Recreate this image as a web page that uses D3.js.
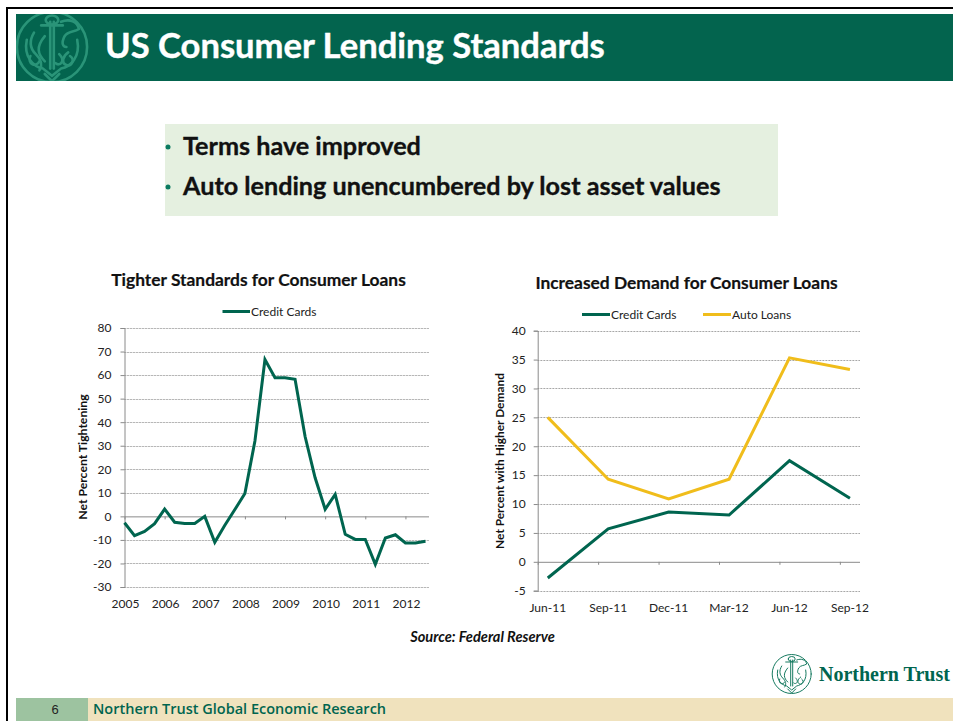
<!DOCTYPE html>
<html>
<head>
<meta charset="utf-8">
<script src="https://cdn.jsdelivr.net/npm/d3@7"></script>
<style>
html,body{margin:0;padding:0;background:#fff;overflow:hidden}
svg{display:block}
text{font-family:Lato,"Open Sans",sans-serif}
</style>
</head>
<body>
<svg id="slide" width="953" height="721"></svg>
<script>
// Lending survey figures, in net percent
const slideTitle = "US Consumer Lending Standards";
const bullets = ["Terms have improved", "Auto lending unencumbered by lost asset values"];
const sourceNote = "Source: Federal Reserve";
const footerText = "Northern Trust Global Economic Research";
const pageNumber = "6";
const brandName = "Northern Trust";

const leftTitle = "Tighter Standards for Consumer Loans";
const leftAxisTitle = "Net Percent Tightening";
const leftSeriesName = "Credit Cards";
const leftYears = ["2005","2006","2007","2008","2009","2010","2011","2012"];
const leftYTicks = [80,70,60,50,40,30,20,10,0,-10,-20,-30];
// Quarterly, 2005 Q1 through 2012 Q3
const tighteningCards = [-2.7,-8.2,-6.4,-3.1,3.1,-2.5,-3,-3,0,-11,-3.8,2.9,9.7,32,66.6,58.9,58.9,58.2,33.9,16.4,3,9.3,-7.6,-9.8,-9.8,-20.4,-9.2,-7.8,-11.3,-11.3,-10.6];

const rightTitle = "Increased Demand for Consumer Loans";
const rightAxisTitle = "Net Percent with Higher Demand";
const rightQuarters = ["Jun-11","Sep-11","Dec-11","Mar-12","Jun-12","Sep-12"];
const rightYTicks = [40,35,30,25,20,15,10,5,0,-5];
const demandCards = [-2.8,5.7,8.6,8.1,17.5,11];
const demandAuto = [25,14.3,10.9,14.3,35.3,33.3];

const GREEN = "#00654f", GOLD = "#f0bd1b", INK = "#222", AXIS = "#8a8a8a";

const svg = d3.select("#slide");

// Slide frame, header band, footer band
svg.append("rect").attr("x",7).attr("y",8).attr("width",960).attr("height",730)
  .attr("fill","none").attr("stroke","#000").attr("stroke-width",2);
svg.append("rect").attr("x",16).attr("y",14).attr("width",937).attr("height",67).attr("fill","#03644e");
svg.append("text").attr("x",105).attr("y",58).attr("fill","#fff")
  .attr("font-size",34.6).attr("font-weight",700).attr("stroke","#fff").attr("stroke-width",0.4).text(slideTitle);

svg.append("rect").attr("x",16).attr("y",698).attr("width",72).attr("height",23).attr("fill","#9dc3a0");
svg.append("rect").attr("x",88).attr("y",698).attr("width",865).attr("height",23).attr("fill","#f0e2bd");
svg.append("text").attr("x",55).attr("y",714).attr("text-anchor","middle").attr("fill","#222")
  .style("font-family","'Liberation Sans'").attr("font-size",13).text(pageNumber);
svg.append("text").attr("x",93).attr("y",714).attr("fill",GREEN)
  .style("font-family","'Open Sans'").attr("font-weight",600).attr("font-size",14.5).text(footerText);

// Anchor-and-ring emblem, reused in the header and beside the brand name
function emblem(parent, cx, cy, r, colour, sw){
  const g = parent.append("g").attr("transform",`translate(${cx},${cy}) scale(${r/20})`)
    .attr("fill","none").attr("stroke",colour).attr("stroke-width",sw*20/r).attr("stroke-linecap","round");
  g.append("circle").attr("r",19.5);
  ["M-1,-14 V12","M1,-14 V12","M-6,-12 H6",
   "M-3.5,-15 a3.5,2.5 0 1 1 7,0 a3.5,2.5 0 1 1 -7,0",
   "M-14,-4 C-16,6 -10,11 -5,12 L0,16 L5,12 C10,11 16,6 14,-4",
   "M-10,-8 C-13,-3 -12,1 -9,4 C-6,7 -5,10 -7,13",
   "M5,-14 C10,-16 14,-14 15,-10 C12,-8 9,-9 7,-6 C5,-2 6,0 8,0",
   "M9,3 C6,5 5,9 8,10 C11,11 13,7 10,5",
   "M-12,5 C-14,9 -9,12 -7,8 M-4,-6 C-9,0 -8,4 -4,8 M4,4 C8,8 4,11 2,9",
   "M-4,15 L0,19 L4,15"
  ].forEach(d => g.append("path").attr("d",d));
}
const hdrClip = svg.append("clipPath").attr("id","hdrClip");
hdrClip.append("rect").attr("x",16).attr("y",14).attr("width",80).attr("height",67);
emblem(svg.append("g").attr("clip-path","url(#hdrClip)"),52,47,36,"#2a9478",2.6);
emblem(svg,791.7,674,20,"#167a60",1);
svg.append("text").attr("x",819).attr("y",681).attr("fill",GREEN)
  .style("font-family","'Liberation Serif'").attr("font-weight",700).attr("font-size",20).text(brandName);

// Callout with the two takeaways
svg.append("rect").attr("x",165).attr("y",124).attr("width",613).attr("height",92).attr("fill","#e5f0e0");
bullets.forEach((b,i)=>{
  const y = 155 + i*40;
  svg.append("circle").attr("cx",168).attr("cy",y-8).attr("r",2.5).attr("fill","#0a7a60");
  svg.append("text").attr("x",183).attr("y",y).attr("fill","#111")
    .attr("font-size",25.2).attr("font-weight",700).attr("stroke","#111").attr("stroke-width",0.35).text(b);
});

svg.append("text").attr("x",482.5).attr("y",642).attr("text-anchor","middle").attr("fill","#111")
  .attr("font-size",14.6).attr("font-weight",700).attr("font-style","italic").text(sourceNote);

// Shared cartesian furniture for both panels
function panel(cfg){
  const {x,y,left,right,yTicks,tickSpots,tickLabels,labelSpots,labelY} = cfg;
  const g = svg.append("g");
  const snap = v => Math.round(v)+0.5;
  const grid = yTicks.filter(d=>d!==0);
  // Pale rule under a darker dotted rule
  g.append("g").selectAll("line").data(grid).join("line")
    .attr("x1",left).attr("x2",right).attr("y1",d=>snap(y(d))).attr("y2",d=>snap(y(d)))
    .attr("stroke","#e2e2e2");
  g.append("g").selectAll("line").data(grid).join("line")
    .attr("x1",left).attr("x2",right).attr("y1",d=>snap(y(d))).attr("y2",d=>snap(y(d)))
    .attr("stroke","#8c8c8c").attr("stroke-dasharray","1 2");

  const yAxis = d3.axisLeft(y).tickValues(yTicks).tickSize(4).tickPadding(cfg.pad).tickFormat(d=>d<0?"-"+Math.abs(d):d);
  const ya = g.append("g").attr("transform",`translate(${left},0)`).call(yAxis);
  ya.select(".domain").attr("stroke",AXIS);
  ya.selectAll(".tick line").attr("stroke",AXIS);
  ya.selectAll("text").attr("fill",INK).attr("font-size",12);

  // Baseline at zero, tick marks hanging below it
  const xAxis = d3.axisBottom(x).tickValues(tickSpots).tickSize(3).tickFormat("");
  const xa = g.append("g").attr("transform",`translate(0,${y(0)})`).call(xAxis);
  xa.select(".domain").attr("stroke",AXIS).attr("d",`M${left},0.5H${right}`);
  xa.selectAll(".tick line").attr("stroke",AXIS);

  g.append("g").selectAll("text").data(tickLabels).join("text")
    .attr("x",(d,i)=>x(labelSpots[i])+cfg.labelShift).attr("y",labelY)
    .attr("text-anchor","middle").attr("fill",INK).attr("font-size",12).text(d=>d);

  g.append("text").attr("transform",`translate(${cfg.axisTitleX},${cfg.axisTitleY}) rotate(-90)`)
    .attr("text-anchor","middle").attr("fill","#111").attr("font-size",cfg.axisTitleSize).attr("font-weight",700).text(cfg.axisTitle);
  g.append("text").attr("x",cfg.titleX).attr("y",cfg.titleY).attr("text-anchor","middle")
    .attr("fill","#111").attr("font-size",17.4).attr("font-weight",700).attr("stroke","#111").attr("stroke-width",0.2).text(cfg.title);
  return g;
}

function legendItem(x0, x1, y, colour, name){
  svg.append("line").attr("x1",x0).attr("x2",x1).attr("y1",y).attr("y2",y)
    .attr("stroke",colour).attr("stroke-width",3);
  svg.append("text").attr("x",x1+1).attr("y",y+4).attr("fill",INK).attr("font-size",12).text(name);
}

// Tightening panel: quarterly index, four quarters per year label
const lx = d3.scaleLinear().domain([0,30.35]).range([124.5,429]);
const ly = d3.scaleLinear().domain([-30,80]).range([587,328]);
panel({x:lx,y:ly,left:124.5,right:429,yTicks:leftYTicks,pad:9,labelShift:1,
  tickSpots:leftYears.map((_,i)=>i*4),tickLabels:leftYears,labelSpots:leftYears.map((_,i)=>i*4),labelY:608,
  axisTitle:leftAxisTitle,axisTitleX:87,axisTitleY:457,axisTitleSize:12.2,
  title:leftTitle,titleX:258.5,titleY:286});
svg.append("path").datum(tighteningCards)
  .attr("d",d3.line().x((d,i)=>lx(i)).y(d=>ly(d)))
  .attr("fill","none").attr("stroke",GREEN).attr("stroke-width",3).attr("stroke-linejoin","miter");
legendItem(222.5,250,311.5,GREEN,leftSeriesName);

// Demand panel: points sit a third of a category in from the tick marks
const rx = d3.scaleLinear().domain([-1/6,5+1/6]).range([537.7,860]);
const ry = d3.scaleLinear().domain([-5,40]).range([590.7,330.7]);
panel({x:rx,y:ry,left:537.7,right:860,yTicks:rightYTicks,pad:8,labelShift:0,
  tickSpots:rightQuarters.map((_,i)=>i-1/6),tickLabels:rightQuarters,labelSpots:rightQuarters.map((_,i)=>i),labelY:612,
  axisTitle:rightAxisTitle,axisTitleX:504,axisTitleY:461,axisTitleSize:11.9,
  title:rightTitle,titleX:686.5,titleY:289});
const rLine = d3.line().x((d,i)=>rx(i)).y(d=>ry(d));
[[demandAuto,GOLD],[demandCards,GREEN]].forEach(([vals,c])=>{
  svg.append("path").datum(vals).attr("d",rLine).attr("fill","none").attr("stroke",c).attr("stroke-width",3);
});
legendItem(582,610,314.5,GREEN,leftSeriesName);
legendItem(703,731,314.5,GOLD,"Auto Loans");
</script>
</body>
</html>
